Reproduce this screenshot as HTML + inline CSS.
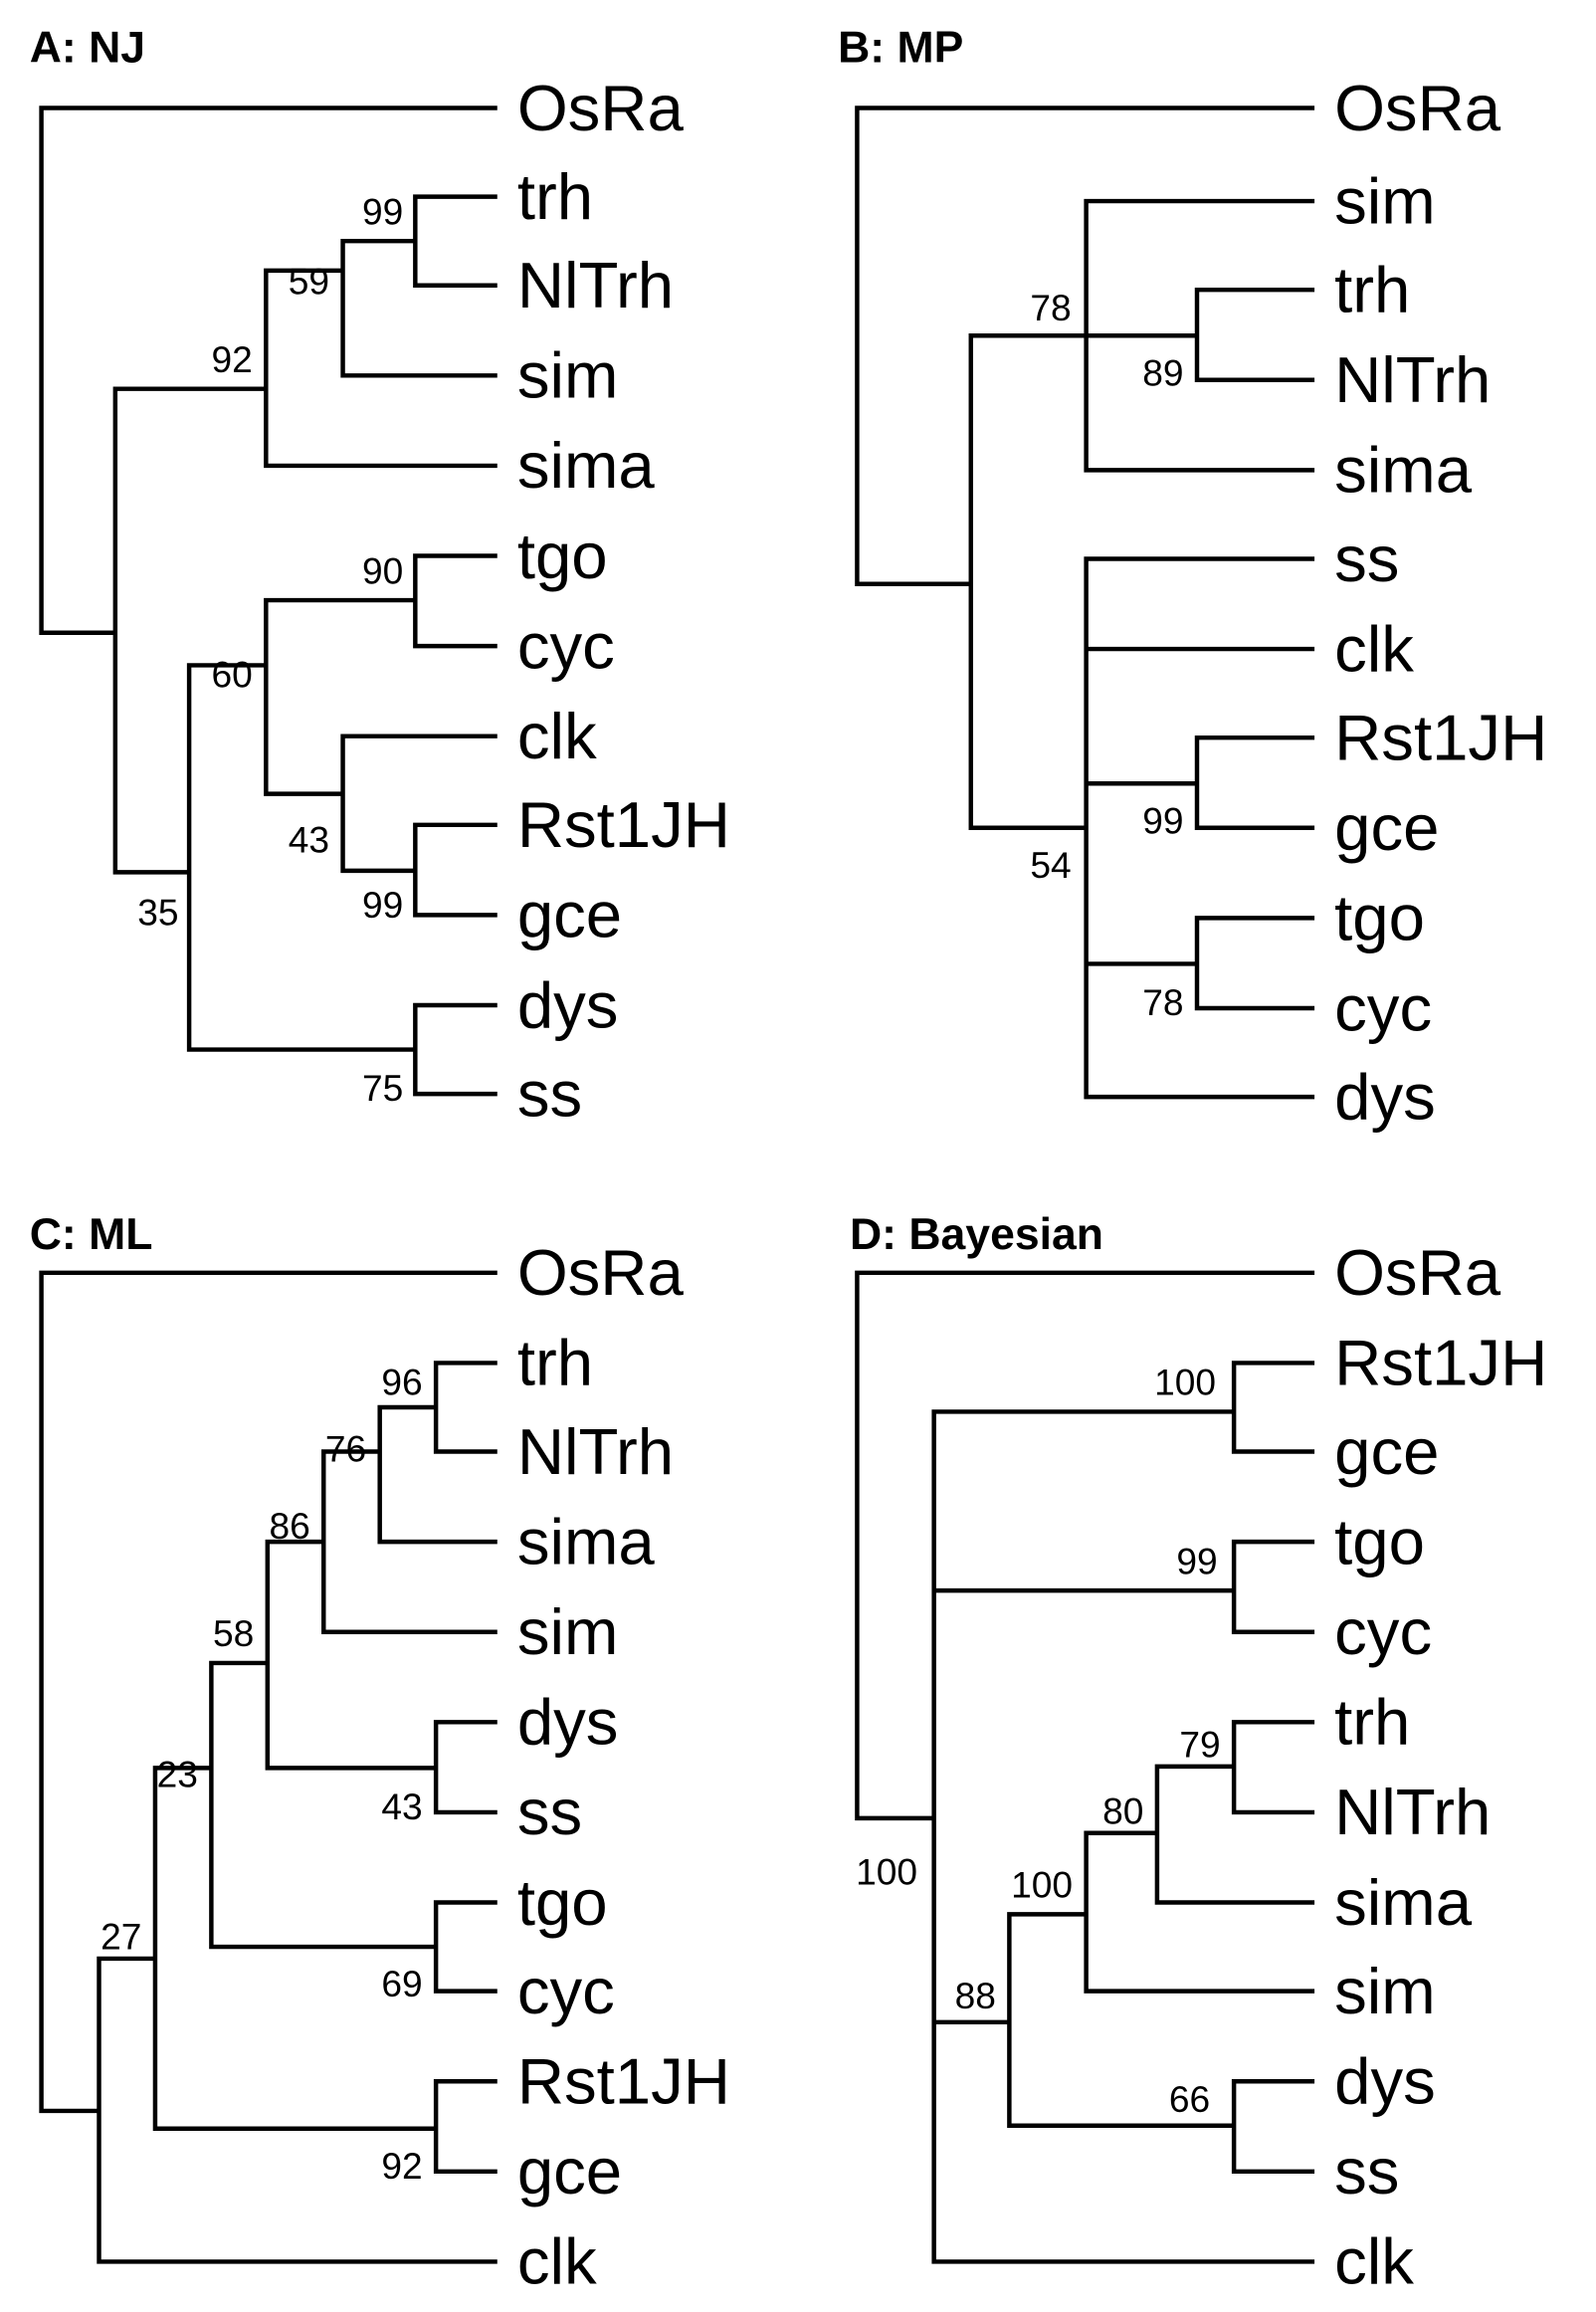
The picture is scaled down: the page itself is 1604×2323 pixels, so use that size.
<!DOCTYPE html>
<html><head><meta charset="utf-8"><style>
html,body{margin:0;padding:0;background:#fff}
svg{display:block}
.l{font-family:"Liberation Sans",Arial,sans-serif;font-size:44px;fill:#000}
.b{font-family:"Liberation Sans",Arial,sans-serif;font-size:25px;fill:#000;text-anchor:middle;dominant-baseline:central}
.t{font-family:"Liberation Sans",Arial,sans-serif;font-size:30px;font-weight:bold;fill:#000}
path{fill:none;stroke:#000;stroke-width:3;stroke-linecap:square}
</style></head><body>
<svg width="1604" height="2323" viewBox="0 0 1080 1564" xmlns="http://www.w3.org/2000/svg">
<rect width="1080" height="1564" fill="#fff"/>
<!-- A -->
<text class="t" x="20" y="42">A: NJ</text>
<path d="M28 73V428M28 73H335M28 428H78M78 263V590M78 263H180M180 183V315M180 183H232M232 163V254M232 163H281M281 133V193M281 133H335M281 193H335M232 254H335M180 315H335
M78 590H128M128 450V710M128 450H180M180 406V537M180 406H281M281 376V437M281 376H335M281 437H335M180 537H232M232 498V589M232 498H335M232 589H281M281 558V619M281 558H335M281 619H335M128 710H281M281 680V740M281 680H335M281 740H335"/>
<g class="l"><text x="350" y="88">OsRa</text><text x="350" y="148">trh</text><text x="350" y="208">NlTrh</text><text x="350" y="269">sim</text><text x="350" y="330">sima</text><text x="350" y="391">tgo</text><text x="350" y="452">cyc</text><text x="350" y="513">clk</text><text x="350" y="573">Rst1JH</text><text x="350" y="634">gce</text><text x="350" y="695">dys</text><text x="350" y="755">ss</text></g>
<g class="b"><text x="259" y="143">99</text><text x="209" y="190">59</text><text x="157" y="243">92</text><text x="259" y="386">90</text><text x="157" y="456">60</text><text x="209" y="568">43</text><text x="259" y="612">99</text><text x="107" y="617">35</text><text x="259" y="736">75</text></g>
<!-- B -->
<text class="t" x="567" y="42">B: MP</text>
<path d="M580 73V395M580 73H888M580 395H657M657 227V560M657 227H735M735 136V318M735 136H888M735 227H810M810 196V257M810 196H888M810 257H888M735 318H888
M657 560H735M735 378V742M735 378H888M735 439H888M735 530H810M810 499V560M810 499H888M810 560H888M735 652H810M810 621V682M810 621H888M810 682H888M735 742H888"/>
<g class="l"><text x="903" y="88">OsRa</text><text x="903" y="151">sim</text><text x="903" y="211">trh</text><text x="903" y="272">NlTrh</text><text x="903" y="333">sima</text><text x="903" y="393">ss</text><text x="903" y="454">clk</text><text x="903" y="514">Rst1JH</text><text x="903" y="575">gce</text><text x="903" y="636">tgo</text><text x="903" y="697">cyc</text><text x="903" y="757">dys</text></g>
<g class="b"><text x="711" y="208">78</text><text x="787" y="252">89</text><text x="787" y="555">99</text><text x="711" y="585">54</text><text x="787" y="678">78</text></g>
<!-- C -->
<text class="t" x="20" y="845">C: ML</text>
<path d="M28 861V1428M28 861H335M28 1428H67M67 1325V1530M67 1530H335M67 1325H105M105 1196V1440M105 1196H143M143 1125V1317M143 1125H181M181 1043V1196M181 1043H219M219 982V1104M219 1104H335M219 982H257M257 952V1043M257 1043H335M257 952H295M295 922V982M295 922H335M295 982H335
M181 1196H295M295 1165V1226M295 1165H335M295 1226H335M143 1317H295M295 1287V1347M295 1287H335M295 1347H335M105 1440H295M295 1408V1469M295 1408H335M295 1469H335"/>
<g class="l"><text x="350" y="876">OsRa</text><text x="350" y="937">trh</text><text x="350" y="997">NlTrh</text><text x="350" y="1058">sima</text><text x="350" y="1119">sim</text><text x="350" y="1180">dys</text><text x="350" y="1241">ss</text><text x="350" y="1302">tgo</text><text x="350" y="1362">cyc</text><text x="350" y="1423">Rst1JH</text><text x="350" y="1484">gce</text><text x="350" y="1545">clk</text></g>
<g class="b"><text x="272" y="935">96</text><text x="234" y="980">76</text><text x="196" y="1032">86</text><text x="158" y="1105">58</text><text x="120" y="1200">23</text><text x="82" y="1310">27</text><text x="272" y="1222">43</text><text x="272" y="1342">69</text><text x="272" y="1465">92</text></g>
<!-- D -->
<text class="t" x="575" y="845">D: Bayesian</text>
<path d="M580 861V1230M580 861H888M580 1230H632M632 955V1530M632 1530H888M632 955H835M835 922V982M835 922H888M835 982H888M632 1076H835M835 1043V1104M835 1043H888M835 1104H888
M632 1368H683M683 1295V1438M683 1295H735M735 1240V1347M735 1347H888M735 1240H783M783 1195V1287M783 1287H888M783 1195H835M835 1165V1226M835 1165H888M835 1226H888M683 1438H835M835 1408V1469M835 1408H888M835 1469H888"/>
<g class="l"><text x="903" y="876">OsRa</text><text x="903" y="937">Rst1JH</text><text x="903" y="997">gce</text><text x="903" y="1058">tgo</text><text x="903" y="1119">cyc</text><text x="903" y="1180">trh</text><text x="903" y="1241">NlTrh</text><text x="903" y="1302">sima</text><text x="903" y="1362">sim</text><text x="903" y="1423">dys</text><text x="903" y="1484">ss</text><text x="903" y="1545">clk</text></g>
<g class="b"><text x="600" y="1266">100</text><text x="802" y="935">100</text><text x="810" y="1056">99</text><text x="660" y="1350">88</text><text x="705" y="1275">100</text><text x="760" y="1225">80</text><text x="812" y="1180">79</text><text x="805" y="1420">66</text></g>
</svg>
</body></html>
